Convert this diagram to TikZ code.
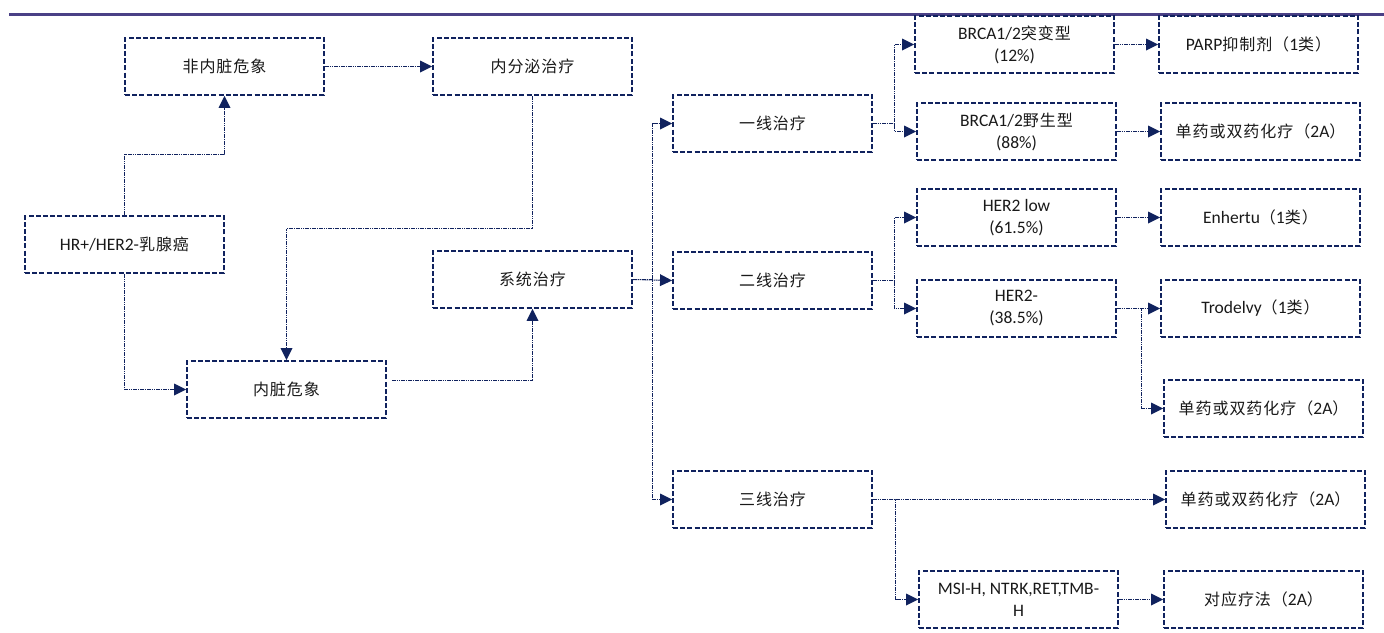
\documentclass[tikz,border=0pt]{standalone}
\usepackage{fontspec}
\setmainfont{Carlito}
\newfontfamily\cjk{Noto Sans CJK SC}[LetterSpace=6,Scale=0.915]
\newcommand\zh[1]{{\cjk #1}}
\usetikzlibrary{arrows.meta}
\definecolor{navy}{RGB}{16,34,94}
\definecolor{rulecol}{RGB}{74,64,134}
\definecolor{txt}{RGB}{25,25,25}
\tikzset{
  box/.style={draw=navy, line width=1.9pt, dash pattern=on 5pt off 2.2pt,
    minimum width=199pt, minimum height=57pt, inner sep=0pt, align=center,
    text=txt, font=\fontsize{17.5}{22}\selectfont},
  conn/.style={draw=navy, line width=1pt, dash pattern=on 1.6pt off 0.7pt,
    -{Triangle[length=12pt,width=12pt,line width=0pt]}}
}
\begin{document}
\begin{tikzpicture}[x=1pt,y=-1pt]
\useasboundingbox (0,0) rectangle (1384,632);
\draw[rulecol, line width=3pt] (9,14) -- (1384,14);

\node[box] (fnz) at (224.5,66.5) {\zh{非内脏危象}};
\node[box] (nfm) at (532.5,66.5) {\zh{内分泌治疗}};
\node[box] (hr)  at (124.5,244.5) {HR+/HER2-\zh{乳腺癌}};
\node[box] (xt)  at (532.5,279.5) {\zh{系统治疗}};
\node[box] (nz)  at (286.5,389.5) {\zh{内脏危象}};
\node[box] (l1)  at (772.5,123.5) {\zh{一线治疗}};
\node[box] (l2)  at (772.5,280.5) {\zh{二线治疗}};
\node[box] (l3)  at (772.5,499.5) {\zh{三线治疗}};
\node[box] (b1)  at (1014.5,44.5) {BRCA1/2\zh{突变型}\\(12\%)};
\node[box] (b2)  at (1016.5,131.5) {BRCA1/2\zh{野生型}\\(88\%)};
\node[box] (h1)  at (1016.5,217.5) {HER2 low\\(61.5\%)};
\node[box] (h2)  at (1016.5,308.5) {HER2-\\(38.5\%)};
\node[box] (ms)  at (1018.5,599.5) {MSI-H, NTRK,RET,TMB-\\H};
\node[box] (t1)  at (1258.5,44.5) {PARP\zh{抑制剂（}1\zh{类）}};
\node[box] (t2)  at (1260.5,131.5) {\zh{单药或双药化疗（}2A\zh{）}};
\node[box] (t3)  at (1260.5,217.5) {Enhertu\zh{（}1\zh{类）}};
\node[box] (t4)  at (1260.5,308.5) {Trodelvy\zh{（}1\zh{类）}};
\node[box] (t5)  at (1263.5,408.5) {\zh{单药或双药化疗（}2A\zh{）}};
\node[box] (t6)  at (1265.5,499.5) {\zh{单药或双药化疗（}2A\zh{）}};
\node[box] (t7)  at (1263.5,599.5) {\zh{对应疗法（}2A\zh{）}};

\draw[conn] (hr.north) -- ++(0,-61) -| (fnz.south);
\draw[conn] (fnz.east) -- (nfm.west);
\draw[conn] (nfm.south) -- ++(0,133) -| (nz.north);
\draw[conn] (hr.south) |- (nz.west);
\draw[conn] ([xshift=5pt,yshift=9.5pt]nz.east) -| (xt.south);

\draw[conn] (xt.east) -- ++(20,0) |- (l1.west);
\draw[conn] (xt.east) -- (l2.west);
\draw[conn] (xt.east) -- ++(20,0) |- (l3.west);

\draw[conn] (l1.east) -- ++(21.5,0) |- (b1.west);
\draw[conn] (l1.east) -- ++(21.5,0) |- (b2.west);
\draw[conn] (l2.east) -- ++(21.5,0) |- (h1.west);
\draw[conn] (l2.east) -- ++(21.5,0) |- (h2.west);

\draw[conn] (b1.east) -- (t1.west);
\draw[conn] (b2.east) -- (t2.west);
\draw[conn] (h1.east) -- (t3.west);
\draw[conn] (h2.east) -- (t4.west);
\draw[conn] (h2.east) -- ++(24.5,0) |- (t5.west);
\draw[conn] (l3.east) -- (t6.west);
\draw[conn] (l3.east) -- ++(23,0) |- (ms.west);
\draw[conn] (ms.east) -- (t7.west);
\end{tikzpicture}
\end{document}
